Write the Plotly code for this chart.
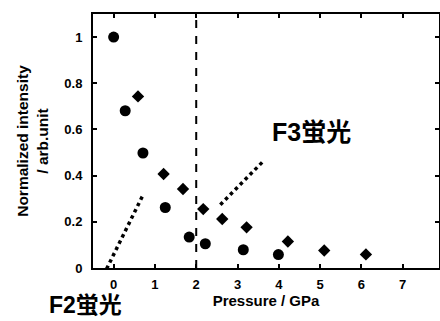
import plotly.graph_objects as go

# Data
circle_x = [0.0, 0.28, 0.71, 1.25, 1.83, 2.22, 3.14, 3.99]
circle_y = [1.0, 0.681, 0.498, 0.262, 0.134, 0.105, 0.079, 0.058]
diamond_x = [0.59, 1.21, 1.68, 2.17, 2.63, 3.22, 4.22, 5.10, 6.11]
diamond_y = [0.743, 0.407, 0.342, 0.255, 0.212, 0.176, 0.115, 0.076, 0.059]
f2_line_x = [-0.32, 0.727]
f2_line_y = [-0.058, 0.322]
f3_line_x = [2.584, 3.60]
f3_line_y = [0.274, 0.458]
boundary_x = [2, 2]
boundary_y = [0, 1.1]
x_ticks = [0, 1, 2, 3, 4, 5, 6, 7]
y_ticks = [0, 0.2, 0.4, 0.6, 0.8, 1]
y_tick_labels = ["0", "0.2", "0.4", "0.6", "0.8", "1"]

FONT = "Liberation Sans, Arial, Noto Sans CJK JP, sans-serif"
ML, MR, MT, MB = 93, 1, 14, 53
W, H = 440, 321

fig = go.Figure()
fig.add_trace(go.Scatter(x=boundary_x, y=boundary_y, mode="lines",
                         line=dict(color="black", width=2, dash="8px,8px"),
                         showlegend=False, hoverinfo="skip"))
fig.add_trace(go.Scatter(x=f2_line_x, y=f2_line_y, mode="lines", cliponaxis=False,
                         line=dict(color="black", width=3.5, dash="3.5px,3.5px"),
                         showlegend=False, hoverinfo="skip"))
fig.add_trace(go.Scatter(x=f3_line_x, y=f3_line_y, mode="lines", cliponaxis=False,
                         line=dict(color="black", width=3.5, dash="3.5px,3.5px"),
                         showlegend=False, hoverinfo="skip"))
fig.add_trace(go.Scatter(x=circle_x, y=circle_y, mode="markers",
                         marker=dict(symbol="circle", size=11, color="black"),
                         showlegend=False))
fig.add_trace(go.Scatter(x=diamond_x, y=diamond_y, mode="markers",
                         marker=dict(symbol="diamond", size=9.5, color="black"),
                         showlegend=False))

axis_common = dict(showline=True, linecolor="black", linewidth=2, mirror="ticks",
                   ticks="inside", ticklen=4, tickwidth=2, tickcolor="black",
                   showgrid=False, zeroline=False, automargin=False,
                   tickfont=dict(family=FONT, size=13, color="black", weight="bold"))

pw, ph = W - ML - MR, H - MT - MB


def px2paper(px, py):
    return (px - ML) / pw, 1 - (py - MT) / ph


ann = []
for text, (px, py), size in [("F3蛍光", (311, 132), 25), ("F2蛍光", (85, 305), 23)]:
    x, y = px2paper(px, py)
    ann.append(dict(text=text, x=x, y=y, xref="paper", yref="paper", showarrow=False,
                    xanchor="center", yanchor="middle",
                    font=dict(family=FONT, size=size, color="black", weight="bold")))

fig.update_layout(
    width=W, height=H,
    margin=dict(l=ML, r=MR, t=MT, b=MB),
    paper_bgcolor="white", plot_bgcolor="white",
    xaxis=dict(range=[-0.5, 7.88], tickvals=x_ticks, ticklabelstandoff=3,
               title=dict(text="Pressure / GPa", standoff=2,
                          font=dict(family=FONT, size=15, color="black", weight="bold")),
               **axis_common),
    yaxis=dict(range=[0, 1.1], tickvals=y_ticks, ticktext=y_tick_labels, ticklabelstandoff=6,
               title=dict(text="Normalized intensity<br>/ arb.unit", standoff=12,
                          font=dict(family=FONT, size=15.5, color="black", weight="bold")),
               **axis_common),
    annotations=ann,
)

fig.write_html("out.html", config={"displayModeBar": False},
               post_script="document.body.style.margin='0';")
